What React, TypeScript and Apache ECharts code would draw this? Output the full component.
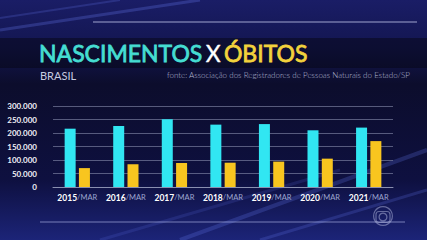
import React, { useEffect, useRef } from "react";
import * as echarts from "echarts";

const categories = ["2015", "2016", "2017", "2018", "2019", "2020", "2021"];
const nascimentos = [216000, 226000, 251000, 231000, 233000, 210000, 220000];
const obitos = [70000, 84000, 89000, 90000, 94000, 105000, 170000];
const yTicks = [0, 50000, 100000, 150000, 200000, 250000, 300000];

const fmt = (v: number) => (v === 0 ? "0" : (v / 1000).toFixed(0) + ".000");

export default function App() {
  const ref = useRef<HTMLDivElement>(null);
  useEffect(() => {
    if (!ref.current) return;
    const chart = echarts.init(ref.current, null, { renderer: "svg" });
    const streak = (pts: number[][], op: number, w: number) => ({
      type: "polyline",
      silent: true,
      shape: { points: pts },
      style: { stroke: "rgba(110,130,255," + op + ")", lineWidth: w, fill: null },
      z: -9,
    });
    chart.setOption({
      animation: false,
      backgroundColor: "#101344",
      graphic: [
        {
          type: "rect",
          shape: { x: 0, y: 0, width: 427, height: 240 },
          style: {
            fill: {
              type: "linear", x: 0, y: 0, x2: 0, y2: 1,
              colorStops: [
                { offset: 0, color: "#1a1d66" },
                { offset: 0.2, color: "#131650" },
                { offset: 0.35, color: "#0c0d2c" },
                { offset: 0.75, color: "#0e1040" },
                { offset: 1, color: "#1c2478" },
              ],
            },
          },
          z: -10, silent: true,
        },
        streak([[0, 30], [200, 0]], 0.25, 3),
        streak([[0, 18], [120, 0]], 0.2, 2),
        streak([[180, 240], [427, 150]], 0.22, 4),
        streak([[100, 240], [340, 170]], 0.15, 3),
        streak([[260, 240], [427, 190]], 0.2, 3),
        {
          type: "rect",
          shape: { x: 0, y: 38, width: 427, height: 30 },
          style: { fill: "rgba(5,6,20,0.5)" },
          z: -8, silent: true,
        },
        {
          type: "line",
          shape: { x1: 93, y1: 22, x2: 417, y2: 22 },
          style: { stroke: "rgba(220,225,255,0.7)", lineWidth: 1 },
          silent: true,
        },
        {
          type: "line",
          shape: { x1: 40, y1: 222, x2: 405, y2: 222 },
          style: { stroke: "rgba(200,210,255,0.55)", lineWidth: 1 },
          silent: true,
        },
        {
          type: "text",
          x: 39, y: 53,
          style: {
            text: "{a|NASCIMENTOS} {b|X} {c|ÓBITOS}",
            verticalAlign: "middle",
            rich: {
              a: { fill: "#45ddd2", fontSize: 23, fontFamily: "Lato", fontWeight: "normal", stroke: "#45ddd2", lineWidth: 0.8 },
              b: { fill: "#ffffff", fontSize: 23, fontFamily: "Lato", fontWeight: "normal", stroke: "#ffffff", lineWidth: 0.4 },
              c: { fill: "#f2d23c", fontSize: 23, fontFamily: "Lato", fontWeight: "normal", stroke: "#f2d23c", lineWidth: 0.8 },
            },
          },
        },
        {
          type: "text",
          x: 40, y: 75,
          style: { text: "BRASIL", fill: "#c8cbe0", fontSize: 11, fontFamily: "Lato", verticalAlign: "middle" },
        },
        {
          type: "text",
          x: 410, y: 75,
          style: {
            text: "fonte: Associação dos Registradores de Pessoas Naturais do Estado/SP",
            fill: "#b8bcd6", fontSize: 8, fontFamily: "Lato", fontWeight: 300, align: "right", verticalAlign: "middle",
          },
        },
        {
          type: "ring",
          shape: { cx: 383, cy: 216, r: 10, r0: 8.8 },
          style: { fill: "rgba(220,225,255,0.4)" },
          silent: true,
        },
        {
          type: "ring",
          shape: { cx: 383, cy: 217, r: 4.5, r0: 3.3 },
          style: { fill: "rgba(220,225,255,0.4)" },
          silent: true,
        },
        {
          type: "rect",
          shape: { x: 376, y: 211.5, width: 14, height: 11, r: 3 },
          style: { fill: "none", stroke: "rgba(220,225,255,0.4)", lineWidth: 1.2 },
          silent: true,
        },
      ],
      grid: { left: 53, right: 34, top: 106, bottom: 53 },
      xAxis: {
        type: "category",
        data: categories,
        axisTick: { show: false },
        axisLine: { lineStyle: { color: "#8a8fb0", width: 1 } },
        axisLabel: {
          interval: 0,
          margin: 6,
          formatter: (v: string) => "{y|" + v + "}{m|/MAR}",
          rich: {
            y: { color: "#ffffff", fontSize: 8.5, fontWeight: "bold", fontFamily: "Lato" },
            m: { color: "#9ea6cf", fontSize: 7.5, fontFamily: "Lato" },
          },
        },
      },
      yAxis: {
        type: "value",
        min: 0,
        max: 300000,
        interval: 50000,
        axisLabel: {
          color: "#f0f0f5",
          fontSize: 8,
          fontWeight: "bold",
          fontFamily: "Lato",
          margin: 16,
          formatter: (v: number) => (yTicks.includes(v) ? fmt(v) : ""),
        },
        splitLine: { lineStyle: { color: "rgba(150,155,185,0.55)", width: 1 } },
      },
      series: [
        {
          type: "bar",
          data: nascimentos,
          barWidth: 11,
          barGap: "30%",
          itemStyle: { color: "#31e6f2" },
        },
        {
          type: "bar",
          data: obitos,
          barWidth: 11,
          itemStyle: { color: "#f8c51f" },
        },
      ],
    });
    return () => chart.dispose();
  }, []);
  return <div ref={ref} style={{ width: 427, height: 240, position: "absolute", left: 0, top: 0 }} />;
}
